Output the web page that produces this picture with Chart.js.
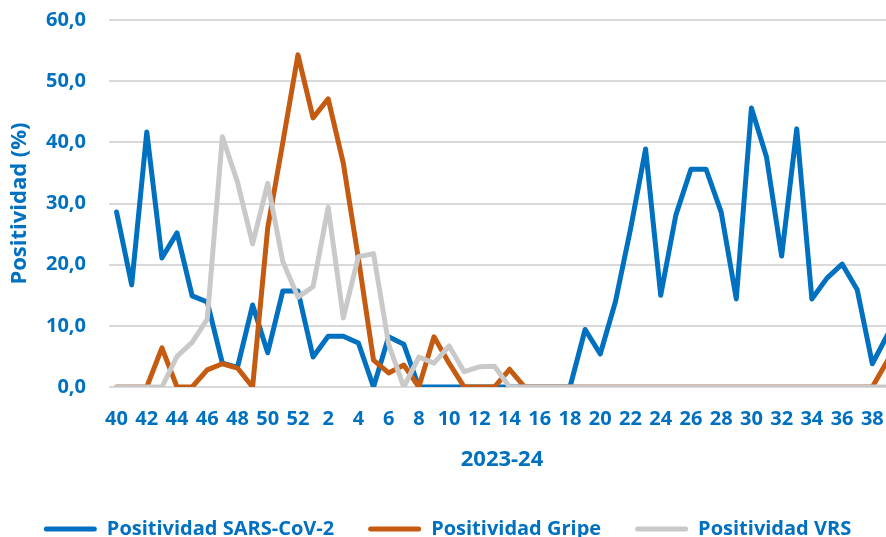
<!DOCTYPE html>
<html>
<head>
<meta charset="utf-8">
<script src="https://cdn.jsdelivr.net/npm/chart.js@4"></script>
<style>
  html, body { margin: 0; padding: 0; overflow: hidden; background: #fff; }
  #caja { width: 908px; height: 564px; margin-top: -15px; }
</style>
</head>
<body>
<div id="caja"><canvas id="grafico" width="908" height="564"></canvas></div>
<script>
// semanas epidemiologicas de la temporada 2023-24
const semanas = ['40', '41', '42', '43', '44', '45', '46', '47', '48', '49', '50', '51', '52',
  '1', '2', '3', '4', '5', '6', '7', '8', '9', '10', '11', '12', '13', '14', '15', '16', '17', '18', '19',
  '20', '21', '22', '23', '24', '25', '26', '27', '28', '29', '30', '31', '32', '33', '34', '35', '36', '37', '38', '39'];

const positividadSars = [28.6, 16.7, 41.7, 21.1, 25.2, 14.9, 13.9, 3.9, 3.2, 13.4, 5.6, 15.7, 15.7,
  4.9, 8.3, 8.3, 7.2, 0, 8.2, 7.0, 0, 0, 0, 0, 0, 0, 0, 0, 0, 0, 0, 9.4,
  5.4, 13.9, 25.8, 38.9, 15.0, 28.1, 35.6, 35.6, 28.6, 14.4, 45.6, 37.6, 21.4, 42.2, 14.4, 17.8, 20.1, 15.9, 3.8, 8.5];

const positividadGripe = [0, 0, 0, 6.4, 0, 0, 2.8, 3.8, 3.1, 0, 26.0, 40.0, 54.3,
  44.0, 47.1, 36.6, 21.0, 4.4, 2.3, 3.6, 0, 8.2, 3.9, 0, 0, 0, 2.9, 0, 0, 0, 0, 0,
  0, 0, 0, 0, 0, 0, 0, 0, 0, 0, 0, 0, 0, 0, 0, 0, 0, 0, 0, 4.3];

const positividadVrs = [0, 0, 0, 0, 5.0, 7.3, 11.1, 40.9, 33.5, 23.4, 33.3, 20.5, 14.7,
  16.4, 29.4, 11.3, 21.3, 21.8, 7.0, 0, 4.9, 3.9, 6.7, 2.5, 3.3, 3.4, 0, 0, 0, 0, 0, 0,
  0, 0, 0, 0, 0, 0, 0, 0, 0, 0, 0, 0, 0, 0, 0, 0, 0, 0, 0, 0];

const azul = '#0070C0';
const fuente = { family: '"Open Sans"', size: 20, weight: 'bold' };

function serie(etiqueta, datos, color, orden) {
  return {
    label: etiqueta,
    data: datos,
    borderColor: color,
    backgroundColor: color,
    borderWidth: 5,
    borderCapStyle: 'round',
    borderJoinStyle: 'round',
    pointRadius: 0,
    tension: 0,
    fill: false,
    order: orden
  };
}

new Chart(document.getElementById('grafico'), {
  type: 'line',
  data: {
    labels: semanas,
    datasets: [
      serie('Positividad SARS-CoV-2', positividadSars, azul, 3),
      serie('Positividad Gripe', positividadGripe, '#C55A11', 2),
      serie('Positividad VRS', positividadVrs, '#C9C9C9', 1)
    ]
  },
  options: {
    responsive: false,
    animation: false,
    layout: { padding: { top: 5, right: 13, left: 0, bottom: 0 } },
    plugins: {
      tooltip: { enabled: false },
      legend: {
        position: 'bottom',
        labels: {
          boxWidth: 53,
          boxHeight: 5,
          useBorderRadius: true,
          borderRadius: 2.5,
          padding: 34,
          color: azul,
          font: fuente,
          sort: (a, b) => a.datasetIndex - b.datasetIndex,
          generateLabels: (chart) => Chart.defaults.plugins.legend.labels.generateLabels(chart)
            .map((item) => Object.assign(item, { lineWidth: 0 }))
        }
      }
    },
    scales: {
      x: {
        offset: true,
        grid: { display: false, drawTicks: false },
        border: { display: false },
        ticks: {
          autoSkip: false,
          maxRotation: 0,
          padding: 20,
          color: azul,
          font: fuente,
          callback: function (valor, indice) {
            return indice % 2 === 0 ? this.getLabelForValue(valor) : '';
          }
        },
        title: {
          display: true,
          text: '2023-24',
          color: azul,
          font: { family: '"Open Sans"', size: 22, weight: 'bold' },
          padding: { top: 4, bottom: 12 }
        },
        afterFit: (eje) => { eje.height = 98; }
      },
      y: {
        min: 0,
        max: 60,
        grid: { color: '#D9D9D9', lineWidth: 2, drawTicks: false },
        border: { display: false },
        ticks: {
          stepSize: 10,
          padding: 23,
          color: azul,
          font: fuente,
          callback: (v) => v.toFixed(1).replace('.', ',')
        },
        title: {
          display: true,
          text: 'Positividad (%)',
          color: azul,
          font: { family: '"Open Sans"', size: 22, weight: 'bold' },
          padding: { top: 7, bottom: 4 }
        },
        afterFit: (eje) => { eje.width = 109; }
      }
    }
  }
});
</script>
</body>
</html>
